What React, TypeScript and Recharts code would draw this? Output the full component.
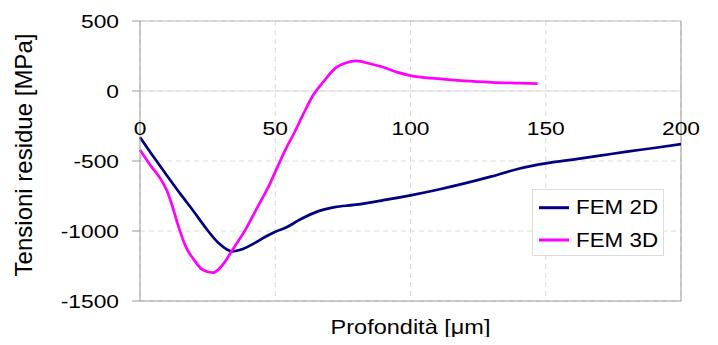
import React from 'react';
import {
  LineChart,
  Line,
  XAxis,
  YAxis,
  CartesianGrid,
  ReferenceLine,
  Legend
} from 'recharts';

// profondità [μm] e tensioni residue [MPa]
const fem2dX = [0, 5, 10, 15, 20, 24, 29, 34, 38, 42, 46, 50, 54, 59, 66, 72, 79, 90, 100, 110, 120, 130, 140, 150, 160, 170, 180, 190, 200];
const fem2dY = [-330, -470, -605, -737, -864, -970, -1085, -1145, -1128, -1090, -1045, -1005, -975, -920, -858, -830, -814, -780, -745, -705, -660, -610, -555, -517, -490, -462, -433, -407, -380];

const fem3dX = [0, 4, 8, 10, 12, 14, 17, 20, 23, 27, 29, 31, 35, 39, 43, 47.5, 51, 54, 57, 60, 64, 68, 72, 76, 80, 85, 90, 95, 100, 110, 120, 130, 140, 147];
const fem3dY = [-420, -535, -640, -715, -825, -955, -1115, -1207, -1275, -1298, -1275, -1230, -1110, -990, -845, -683, -535, -410, -300, -180, -30, 70, 160, 200, 215, 195, 170, 135, 110, 88, 72, 62, 56, 52];

const xTicks = [0, 50, 100, 150, 200];
const yTicks = [-1500, -1000, -500, 0, 500];

const fem2d = fem2dX.map((x, i) => ({ x, y: fem2dY[i] }));
const fem3d = fem3dX.map((x, i) => ({ x, y: fem3dY[i] }));

const W = 718;
const H = 345;
const MARGIN = { top: 21, right: 37, bottom: 0, left: 0 };
const Y_AXIS_W = 140;
const X_AXIS_H = 44;
const PLOT_H = H - MARGIN.top - MARGIN.bottom - X_AXIS_H;
const Y_MIN = -1500;
const Y_MAX = 500;
const Y_ZERO = MARGIN.top + (Y_MAX / (Y_MAX - Y_MIN)) * PLOT_H;

const FONT = '"Liberation Sans", Arial, sans-serif';

const StretchText = ({ x, y, sx, size, anchor, children }: any) => (
  <text
    transform={`translate(${x},${y}) scale(${sx},1)`}
    textAnchor={anchor}
    fontSize={size}
    fontFamily={FONT}
    fill="#000"
  >
    {children}
  </text>
);

const XTick = (props: any) => (
  <StretchText x={props.x} y={Y_ZERO + 44} sx={1.2} size={19} anchor="middle">
    {props.payload.value}
  </StretchText>
);

const YTick = (props: any) => (
  <StretchText x={props.x} y={props.y + 7} sx={1.2} size={19} anchor="end">
    {props.payload.value}
  </StretchText>
);

const XTitle = (props: any) => {
  const vb = props.viewBox;
  return (
    <StretchText x={vb.x + vb.width / 2} y={vb.y + 33} sx={1.12} size={21} anchor="middle">
      Profondità [μm]
    </StretchText>
  );
};

const YTitle = (props: any) => {
  const vb = props.viewBox;
  return (
    <text
      transform={`translate(32,${vb.y + vb.height / 2 - 6}) rotate(-90)`}
      textAnchor="middle"
      fontSize={24}
      fontFamily={FONT}
      fill="#000"
    >
      Tensioni residue [MPa]
    </text>
  );
};

const LegendBox = ({ payload }: any) => (
  <div
    style={{
      width: 132,
      height: 67,
      border: '1px solid #dcdcdc',
      background: '#fff',
      boxSizing: 'border-box'
    }}
  >
    <svg width={130} height={65}>
      {(payload || []).map((p: any, i: number) => (
        <g key={p.value}>
          <line x1={6} x2={36} y1={17.7 + i * 32.3} y2={17.7 + i * 32.3} stroke={p.color} strokeWidth={3} />
          <StretchText x={43} y={24.3 + i * 32.4} sx={1.12} size={20} anchor="start">
            {p.value}
          </StretchText>
        </g>
      ))}
    </svg>
  </div>
);

export default function App() {
  return (
    <div style={{ margin: -8, width: W, height: H, background: '#fff' }}>
      <LineChart width={W} height={H} margin={MARGIN}>
        <CartesianGrid stroke="#dadada" strokeDasharray="5 4" />
        <XAxis
          type="number"
          dataKey="x"
          domain={[0, 200]}
          ticks={xTicks}
          height={X_AXIS_H}
          axisLine={false}
          tickLine={false}
          tick={<XTick />}
          label={<XTitle />}
          allowDuplicatedCategory={false}
        />
        <YAxis
          type="number"
          domain={[Y_MIN, Y_MAX]}
          ticks={yTicks}
          width={Y_AXIS_W}
          stroke="#999"
          tickSize={8}
          tickMargin={13}
          tick={<YTick />}
          label={<YTitle />}
        />
        <ReferenceLine y={0} stroke="#dadada" />
        <ReferenceLine y={Y_MAX} stroke="#bbb" />
        <ReferenceLine y={Y_MIN} stroke="#999" />
        <ReferenceLine x={200} stroke="#999" />
        <Legend
          layout="vertical"
          align="center"
          verticalAlign="middle"
          wrapperStyle={{ left: 532, top: 189, width: 132, height: 67 }}
          content={(props: any) => <LegendBox payload={props.payload} />}
        />
        <Line
          data={fem2d}
          dataKey="y"
          name="FEM 2D"
          type="monotone"
          stroke="#000080"
          strokeWidth={2.7}
          dot={false}
          isAnimationActive={false}
        />
        <Line
          data={fem3d}
          dataKey="y"
          name="FEM 3D"
          type="monotone"
          stroke="#ff00ff"
          strokeWidth={2.7}
          dot={false}
          isAnimationActive={false}
        />
      </LineChart>
    </div>
  );
}
